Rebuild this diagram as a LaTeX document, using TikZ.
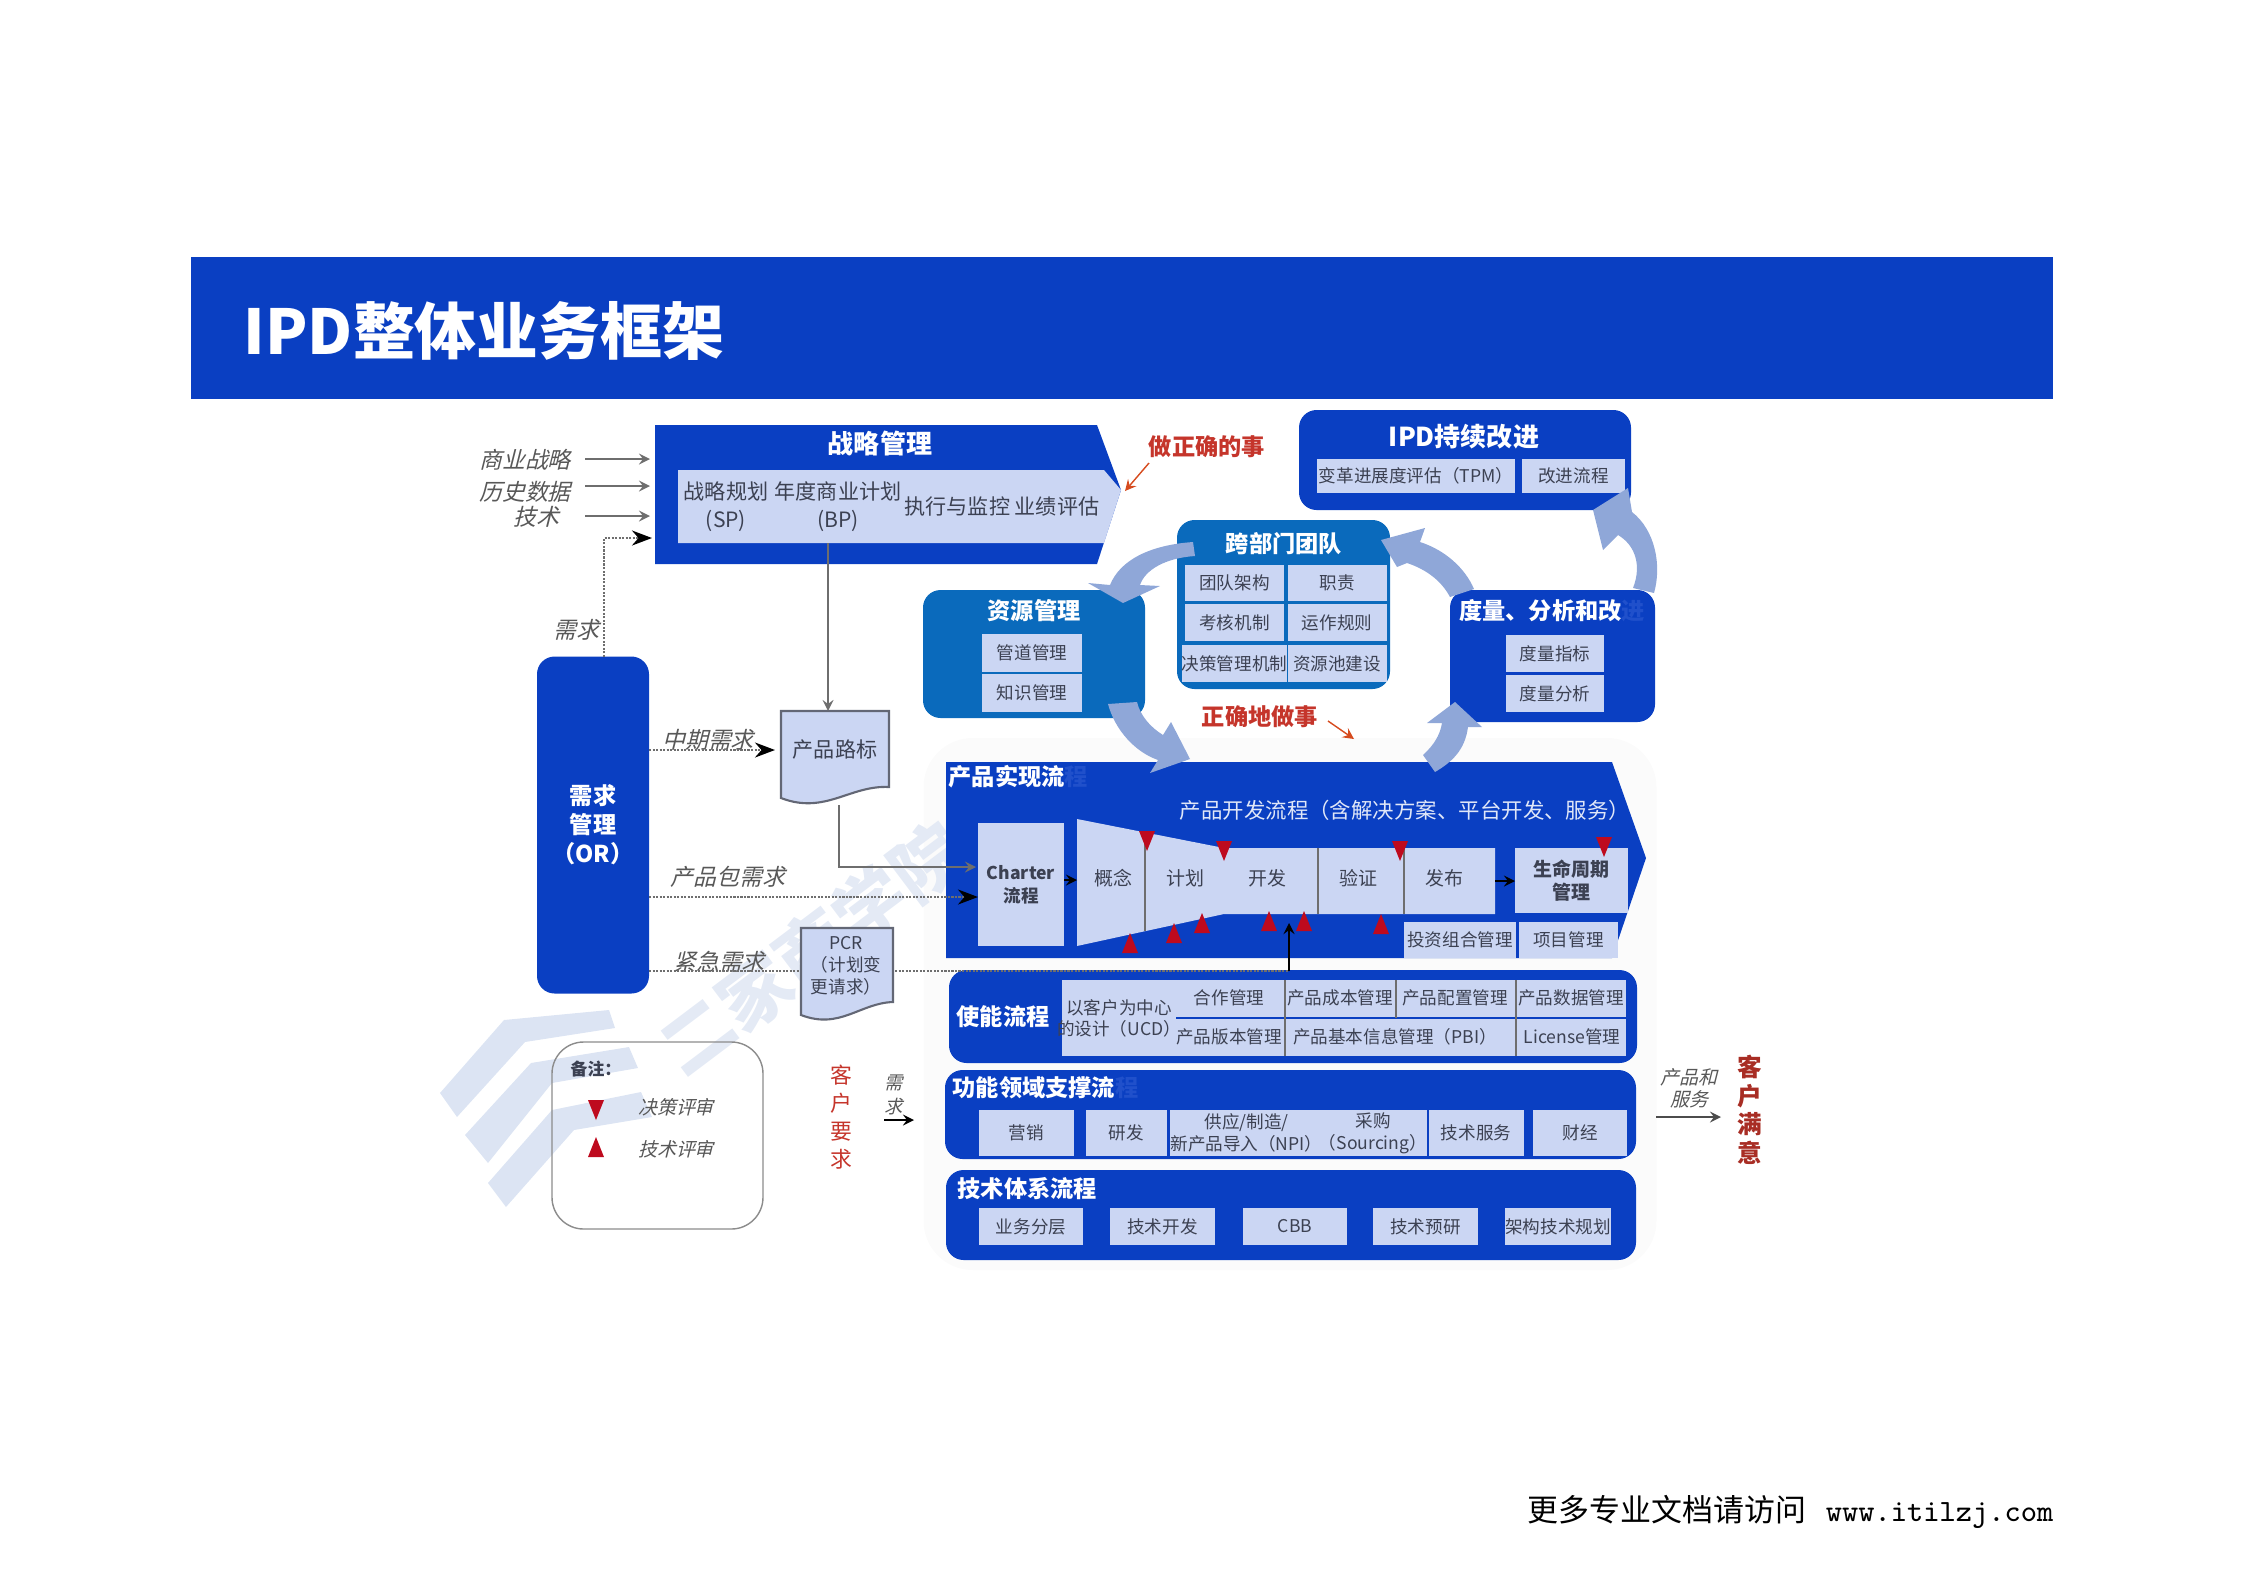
\documentclass[tikz,border=0pt]{standalone}
\usepackage{fontspec}
\setmainfont{Noto Sans CJK SC}
\newfontfamily\slantfont[FakeSlant=0.25]{Noto Sans CJK SC}
\usetikzlibrary{arrows.meta}
\definecolor{deepblue}{HTML}{0A3FC2}
\definecolor{seablue}{HTML}{0A6ABC}
\definecolor{paleblue}{HTML}{CBD6F3}
\definecolor{flowblue}{HTML}{8FA7D8}
\definecolor{markred}{HTML}{BE0A1E}
\definecolor{wordred}{HTML}{C5352B}
\definecolor{inkgrey}{HTML}{3C4152}
\definecolor{linegrey}{HTML}{6E6E6E}
\definecolor{stamp}{HTML}{DCE4F3}
\definecolor{stampword}{HTML}{E4EAF5}
\definecolor{fadeblue}{HTML}{2050CB}
\tikzset{wh/.style 2 args={minimum width=#1*0.01cm,minimum height=#2*0.01cm}}
\newcommand{\decisionmark}[2]{\fill[markred] (#1-8,#2) -- (#1+8,#2) -- (#1,#2+20) -- cycle;}
\newcommand{\techmark}[2]{\fill[markred] (#1-8,#2+20) -- (#1+8,#2+20) -- (#1,#2) -- cycle;}
\begin{document}
\begin{tikzpicture}[x=0.01cm,y=-0.01cm]
\tikzstyle{every node}=[inner sep=0pt, align=center]
\tikzstyle{panel}=[fill=deepblue, rounded corners=5pt]
\tikzstyle{seapanel}=[fill=seablue, rounded corners=5pt]
\tikzstyle{cell}=[fill=paleblue, text=inkgrey, font=\fontsize{5}{6.2}\selectfont]
\tikzstyle{heading}=[text=white, font=\fontsize{6.6}{8}\selectfont\bfseries]
\tikzstyle{small}=[text=inkgrey, font=\fontsize{5}{6.2}\selectfont]
\tikzstyle{plain}=[text=inkgrey, font=\fontsize{6}{8}\selectfont]
\tikzstyle{note}=[text=linegrey!80!black, font=\fontsize{6.5}{7.4}\selectfont\slantfont]
\tikzstyle{alert}=[text=wordred, font=\fontsize{6.6}{8}\selectfont\bfseries]
\tikzstyle{link}=[linegrey, thin, -stealth]
\tikzstyle{dotlink}=[linegrey, dash pattern=on 0.6pt off 0.4pt, semithick, -{Stealth[black]}]
\tikzstyle{redlink}=[wordred!70!orange, thin, -stealth]
\tikzstyle{flow}=[fill=flowblue]
\tikzstyle{docpage}=[fill=paleblue, draw=inkgrey!80, semithick]
\useasboundingbox (0,0) rectangle (2245,1587);

\fill[deepblue] (191,257) rectangle (2053,399);
\node[text=white, font=\fontsize{17.6}{20}\selectfont\bfseries, anchor=west] (title) at (243,331) {IPD整体业务框架};
\node[anchor=east, font=\fontsize{8.8}{10}\selectfont] (footer) at (2054,1512) {更多专业文档请访问\hspace{5.5pt}{\ttfamily www.itilzj.com}};

\node[fill=black!2, fill opacity=0.8, rounded corners=14pt, wh={733}{532}] (backdrop) at (1290,1004) {};
\fill[stamp] (440,1093) -- (504,1020) -- (609,1010) -- (615,1028) -- (525,1042) -- (457,1117) -- cycle;
\fill[stamp] (465,1135) -- (531,1063) -- (629,1047) -- (638,1068) -- (552,1083) -- (488,1163) -- cycle;
\fill[stamp] (488,1183) -- (552,1110) -- (641,1092) -- (652,1117) -- (574,1130) -- (506,1207) -- cycle;
\node[text=stampword, rotate=37, font=\fontsize{20.5}{22}\selectfont\bfseries] (stampname) at (812,948) {二家商学院};

\fill[deepblue] (655,425) -- (1097,425) -- (1121,490) -- (1097,564) -- (655,564) -- cycle;
\fill[paleblue] (678,470) -- (1104,470) -- (1121,490) -- (1104,543) -- (678,543) -- cycle;
\node[heading, font=\fontsize{7.4}{9}\selectfont\bfseries] (strategy) at (880,443) {战略管理};
\node[plain] (sp) at (726,507) {战略规划\\(SP)};
\node[plain] (bp) at (838,507) {年度商业计划\\(BP)};
\node[plain, anchor=east] (exec) at (1100,506) {执行与监控 业绩评估};

\node[note] (bizlabel) at (525,460) {商业战略};
\node[note] (histlabel) at (525,492) {历史数据};
\node[note] (techlabel) at (536,517) {技术};
\coordinate (bizfrom) at (585,459);
\coordinate (bizto) at (650,459);
\coordinate (histfrom) at (585,486);
\coordinate (histto) at (650,486);
\coordinate (techfrom) at (585,516);
\coordinate (techto) at (650,516);
\draw[link] (bizfrom) -- (bizto);
\draw[link] (histfrom) -- (histto);
\draw[link] (techfrom) -- (techto);

\node[panel, wh={112}{337}] (needs) at (593,825) {};
\node[heading, font=\fontsize{6.6}{8.2}\selectfont\bfseries] (needstitle) at (593,825) {需求\\管理\\（OR）};
\node[note] (needlabel) at (576,630) {需求};
\coordinate (needup) at (604,657);
\coordinate (needturn) at (604,538);
\coordinate (needto) at (652,538);
\draw[dotlink] (needup) -- (needturn) -- (needto);

\draw[docpage] (781,711) -- (889,711) -- (889,787) .. controls (850,785) and (825,815) .. (781,798) -- cycle;
\node[plain] (roadmap) at (835,750) {产品路标};
\coordinate (planout) at (828,543);
\coordinate (roadin) at (828,711);
\draw[link] (planout) -- (roadin);
\node[note] (midlabel) at (708,740) {中期需求};
\coordinate (midfrom) at (649,750);
\coordinate (midto) at (775,750);
\draw[dotlink] (midfrom) -- (midto);

\node[seapanel, wh={222}{128}] (resource) at (1034,654) {};
\node[heading] (resourcetitle) at (1034,611) {资源管理};
\node[cell, wh={100}{38}] (pipeline) at (1032,653) {管道管理};
\node[cell, wh={100}{38}] (knowledge) at (1032,693) {知识管理};

\node[seapanel, wh={213}{169}] (team) at (1283.5,604.5) {};
\node[heading] (teamtitle) at (1284,544) {跨部门团队};
\node[cell, wh={99}{36}] (teamorg) at (1234.5,583) {团队架构};
\node[cell, wh={99}{36}] (duty) at (1337,583) {职责};
\node[cell, wh={99}{37}] (assess) at (1234.5,622.5) {考核机制};
\node[cell, wh={99}{37}] (rule) at (1337,622.5) {运作规则};
\node[cell, wh={99}{37}] (decide) at (1234.5,663.5) {决策管理机制};
\node[cell, wh={99}{37}] (pool) at (1337,663.5) {资源池建设};

\node[panel, wh={205}{132}] (metric) at (1552.5,656) {};
\node[heading] (metrictitle) at (1552,611) {度量、分析和改\textcolor{fadeblue}{进}};
\node[cell, wh={98}{37}] (metricidx) at (1555,653.5) {度量指标};
\node[cell, wh={98}{37}] (metricana) at (1555,693.5) {度量分析};

\node[panel, wh={332}{100}] (ipd) at (1465,460) {};
\node[heading, font=\fontsize{7.4}{9}\selectfont\bfseries] (ipdtitle) at (1464,437) {IPD持续改进};
\node[cell, wh={198}{34}] (tpm) at (1416,476) {变革进展度评估（TPM）};
\node[cell, wh={103}{34}] (improve) at (1573.5,476) {改进流程};

\node[alert] (rightthing) at (1207,447) {做正确的事};
\coordinate (rightfrom) at (1149,463);
\coordinate (rightto) at (1125,491);
\draw[redlink] (rightfrom) -- (rightto);
\node[alert] (rightway) at (1260,717) {正确地做事};
\coordinate (wayfrom) at (1328,721);
\coordinate (wayto) at (1354,739);
\draw[redlink] (wayfrom) -- (wayto);

\fill[deepblue] (946,762) -- (1612,762) -- (1646,858) -- (1612,958) -- (946,958) -- cycle;
\node[heading, anchor=west] (producttitle) at (948,777) {产品实现流\textcolor{fadeblue}{程}};
\node[text=paleblue!60!white, font=\fontsize{6.1}{8}\selectfont, anchor=east] (devflow) at (1631,810) {产品开发流程（含解决方案、平台开发、服务）};
\node[cell, font=\fontsize{5}{6.6}\selectfont\bfseries, wh={86}{123}] (charter) at (1021,884.5) {Charter\\流程};
\fill[paleblue] (1077,819) -- (1224,848) -- (1495,848) -- (1495,914) -- (1224,914) -- (1077,946) -- cycle;
\draw[linegrey, thin] (1145,832) -- (1145,931);
\draw[linegrey, thin] (1318,848) -- (1318,914);
\draw[linegrey, thin] (1404,848) -- (1404,914);
\node[plain, font=\fontsize{5.4}{6}\selectfont] (concept) at (1113,878) {概念};
\node[plain, font=\fontsize{5.4}{6}\selectfont] (plan) at (1185,878) {计划};
\node[plain, font=\fontsize{5.4}{6}\selectfont] (develop) at (1267,878) {开发};
\node[plain, font=\fontsize{5.4}{6}\selectfont] (verify) at (1358,878) {验证};
\node[plain, font=\fontsize{5.4}{6}\selectfont] (release) at (1444,878) {发布};
\node[cell, font=\fontsize{5.4}{6.5}\selectfont\bfseries, wh={113}{65}] (lifecycle) at (1571.5,880.5) {生命周期\\管理};
\node[cell, wh={112}{36}] (portfolio) at (1460,940) {投资组合管理};
\node[cell, wh={99}{36}] (project) at (1568.5,940) {项目管理};
\coordinate (charterout) at (1064,880);
\coordinate (conceptin) at (1077,880);
\coordinate (releaseout) at (1495,881);
\coordinate (lifein) at (1515,881);
\draw[black, -stealth] (charterout) -- (conceptin);
\draw[black, -stealth] (releaseout) -- (lifein);
\decisionmark{1147}{831}
\decisionmark{1224}{841}
\decisionmark{1400}{841}
\decisionmark{1604}{837}
\techmark{1130}{933}
\techmark{1174}{923}
\techmark{1202}{913}
\techmark{1269}{911}
\techmark{1304}{911}
\techmark{1381}{914}

\node[panel, wh={688}{93}] (enable) at (1293,1016.5) {};
\node[heading] (enabletitle) at (1003,1017) {使能流程};
\node[fill=paleblue, wh={564}{76}] (enablebody) at (1344,1018) {};
\draw[deepblue, thick] (1176,1018) -- (1626,1018);
\draw[linegrey, thin] (1285,980) -- (1285,1056);
\draw[linegrey, thin] (1396,980) -- (1396,1018);
\draw[linegrey, thin] (1516,980) -- (1516,1056);
\node[small, font=\fontsize{5}{6}\selectfont] (ucd) at (1119,1018) {以客户为中心\\的设计（UCD）};
\node[small] (cooperate) at (1229,998) {合作管理};
\node[small] (cost) at (1340,998) {产品成本管理};
\node[small] (config) at (1455,998) {产品配置管理};
\node[small] (pdata) at (1571,998) {产品数据管理};
\node[small] (version) at (1229,1037) {产品版本管理};
\node[small] (pbi) at (1395,1037) {产品基本信息管理（PBI）};
\node[small] (license) at (1572,1037) {License管理};

\node[panel, wh={691}{89}] (support) at (1290.5,1114.5) {};
\node[heading, anchor=west] (supporttitle) at (952,1088) {功能领域支撑流\textcolor{fadeblue}{程}};
\node[cell, wh={95}{46}] (market) at (1026.5,1133) {营销};
\node[cell, wh={81}{46}] (rnd) at (1126.5,1133) {研发};
\node[cell, wh={145}{46}] (supply) at (1246.5,1133) {供应/制造/\\新产品导入（NPI）};
\node[cell, wh={95}{46}] (sourcing) at (1373,1133) {采购\\（Sourcing）};
\node[cell, wh={95}{46}] (service) at (1476,1133) {技术服务};
\node[cell, wh={94}{46}] (finance) at (1580,1133) {财经};

\node[panel, wh={690}{90}] (techflow) at (1291,1215) {};
\node[heading, anchor=west] (techtitle) at (957,1189) {技术体系流程};
\node[cell, wh={104}{37}] (layer) at (1031,1226.5) {业务分层};
\node[cell, wh={105}{37}] (techdev) at (1162.5,1226.5) {技术开发};
\node[cell, wh={104}{37}] (cbb) at (1295,1226.5) {CBB};
\node[cell, wh={105}{37}] (research) at (1425.5,1226.5) {技术预研};
\node[cell, wh={104}{37}] (archplan) at (1558,1226.5) {架构技术规划};

\fill[flow] (1193,542) .. controls (1150,545) and (1120,560) .. (1110,585) -- (1088,583) -- (1123,603) -- (1160,586) -- (1140,585) .. controls (1145,570) and (1165,558) .. (1195,556) -- cycle;
\fill[flow] (1108,704) .. controls (1115,730) and (1135,752) .. (1158,760) -- (1150,773) -- (1190,759) -- (1171,722) -- (1163,735) .. controls (1150,727) and (1140,715) .. (1137,702) -- cycle;
\fill[flow] (1450,597) .. controls (1442,582) and (1428,570) .. (1407,563) -- (1397,567) -- (1381,540) -- (1425,528) -- (1420,542) .. controls (1445,550) and (1465,568) .. (1474,589) -- cycle;
\fill[flow] (1633,588) .. controls (1642,565) and (1635,545) .. (1618,535) -- (1603,550) -- (1593,510) -- (1628,488) -- (1632,512) .. controls (1655,530) and (1662,565) .. (1654,593) -- cycle;
\fill[flow] (1423,755) .. controls (1434,745) and (1440,735) .. (1442,723) -- (1427,723) -- (1455,702) -- (1482,727) -- (1468,727) .. controls (1465,750) and (1452,762) .. (1435,772) -- cycle;

\node[note] (packlabel) at (728,877) {产品包需求};
\coordinate (packfrom) at (649,897);
\coordinate (packto) at (978,897);
\draw[dotlink] (packfrom) -- (packto);
\coordinate (roadout) at (839,805);
\coordinate (roadturn) at (839,867);
\coordinate (roadto) at (976,867);
\draw[link] (roadout) -- (roadturn) -- (roadto);
\node[note] (urgentlabel) at (719,962) {紧急需求};
\coordinate (urgentfrom) at (649,971);
\coordinate (urgentturn) at (1289,971);
\coordinate (urgentto) at (1289,923);
\draw[linegrey, dash pattern=on 0.6pt off 0.4pt, semithick] (urgentfrom) -- (urgentturn);
\draw[black, -stealth] (urgentturn) -- (urgentto);
\draw[docpage] (801,928) -- (893,928) -- (893,1002) .. controls (860,1003) and (840,1030) .. (801,1015) -- cycle;
\node[small, font=\fontsize{5}{6.3}\selectfont] (pcr) at (846,966) {PCR\\（计划变\\更请求）};

\node[draw=black!45, rounded corners=9pt, wh={211}{187}] (legend) at (657.5,1135.5) {};
\node[text=inkgrey, font=\fontsize{4.8}{6}\selectfont\bfseries] (legendtitle) at (596,1069) {备注：};
\decisionmark{596}{1100}
\techmark{596}{1137}
\node[note, font=\fontsize{5.4}{6.4}\selectfont\slantfont] (decisionlabel) at (676,1107) {决策评审};
\node[note, font=\fontsize{5.4}{6.4}\selectfont\slantfont] (techreview) at (676,1149) {技术评审};

\node[text=wordred, font=\fontsize{6.2}{8}\selectfont] (askcustomer) at (841,1117) {客\\户\\要\\求};
\node[note, font=\fontsize{5.2}{7}\selectfont\slantfont] (asklabel) at (894,1095) {需\\求};
\coordinate (askfrom) at (884,1120);
\coordinate (askto) at (914,1120);
\draw[black, thin, -stealth] (askfrom) -- (askto);

\node[note, font=\fontsize{5.4}{6.3}\selectfont\slantfont] (deliverlabel) at (1689,1088) {产品和\\服务};
\coordinate (deliverfrom) at (1656,1117);
\coordinate (deliverto) at (1721,1117);
\draw[black!70, thin, -stealth] (deliverfrom) -- (deliverto);
\node[text=wordred!85!black, font=\fontsize{7}{8.1}\selectfont\bfseries] (happy) at (1750,1110) {客\\户\\满\\意};
\end{tikzpicture}
\end{document}
